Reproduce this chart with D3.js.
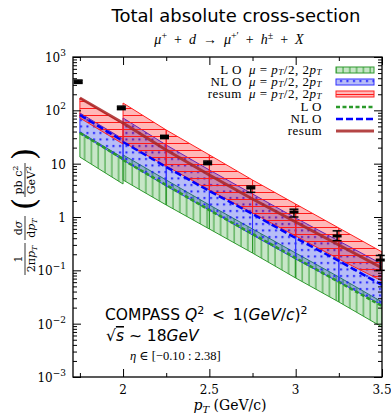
<!DOCTYPE html>
<html>
<head>
  <title>Total absolute cross-section</title>
  <style>
    body { margin: 0; background: #fff; }
    svg text { fill: #000; }
    .serif { font-family: "DejaVu Serif", "Liberation Serif", serif; }
    .lserif { font-family: "Liberation Serif", "DejaVu Serif", serif; }
    .sans { font-family: "DejaVu Sans", sans-serif; }
  </style>
</head>
<body>
  <div id="chart"></div>

  <script src="https://d3js.org/d3.v7.min.js"></script>
  <script>
    // pT nodes: the first bin is computed separately, the rest share one curve
    const ptFirst = [1.75, 2.0];
    const ptRest = [2.0, 2.25, 2.5, 2.75, 3.0, 3.25, 3.5];

    // LO band (mu = pT/2 .. 2pT) and central LO curve
    const loLow1 = [13.3, 4.16];
    const loHigh1 = [39.3, 12.8];
    const loLine1 = [37.6, 12.2];
    const loLow = [4.94, 1.68, 0.596, 0.211, 0.0718, 0.0255, 0.00866];
    const loHigh = [14.6, 4.94, 1.68, 0.596, 0.211, 0.075, 0.0255];
    const loLine = [11.7, 3.98, 1.35, 0.48, 0.17, 0.0604, 0.0214];

    // NLO band and curve
    const nloLow1 = [37.6, 11.7];
    const nloHigh1 = [89.1, 29.0];
    const nloLine1 = [81.8, 26.6];
    const nloLow = [11.7, 3.81, 1.35, 0.46, 0.163, 0.0604, 0.0224];
    const nloHigh = [71.9, 22.4, 7.61, 2.7, 0.958, 0.355, 0.131];
    const nloLine = [25.5, 8.66, 3.07, 1.14, 0.404, 0.15, 0.0531];

    // resummed band and curve
    const resLow1 = [71.9, 23.4];
    const resHigh1 = [170, 55.5];
    const resLine1 = [170, 57.9];
    const resLow = [25.5, 9.04, 3.21, 1.19, 0.441, 0.163, 0.0631];
    const resHigh = [137, 42.8, 14.6, 4.94, 1.75, 0.622, 0.221];
    const resLine = [57.9, 18.0, 6.14, 2.18, 0.806, 0.299, 0.111];

    // COMPASS data
    const dataPt = [1.74, 1.99, 2.24, 2.49, 2.74, 2.99, 3.24, 3.49];
    const dataVal = [344, 111, 31.6, 10.3, 3.5, 1.24, 0.441, 0.156];
    const dataLow = [320, 103, 29.5, 9.6, 2.9, 1.0, 0.36, 0.10];
    const dataHigh = [370, 120, 34, 11.2, 3.8, 1.4, 0.55, 0.19];

    const xTicks = [2, 2.5, 3, 3.5];
    const xMinor = [1.75, 2.25, 2.75, 3.25];
    const yTickExp = [-3, -2, -1, 0, 1, 2, 3];

    const W = 391, H = 415;
    const svg = d3.select("#chart").append("svg")
      .attr("width", W).attr("height", H);

    const x = d3.scaleLinear().domain([1.71, 3.5]).range([73, 382]);
    const y = d3.scaleLog().domain([1e-3, 1e3]).range([377, 57]);

    const defs = svg.append("defs");
    defs.append("clipPath").attr("id", "clip")
      .append("rect").attr("x", 73).attr("y", 57).attr("width", 309).attr("height", 320);

    // hatch patterns
    const pV = defs.append("pattern").attr("id", "hatchV")
      .attr("patternUnits", "userSpaceOnUse").attr("width", 6.8).attr("height", 7);
    pV.append("line").attr("x1", 3).attr("x2", 3).attr("y1", 0).attr("y2", 7)
      .attr("stroke", "#2e9a2e").attr("stroke-width", 1);

    const pD = defs.append("pattern").attr("id", "hatchD")
      .attr("patternUnits", "userSpaceOnUse").attr("width", 6.5).attr("height", 6.5);
    pD.append("rect").attr("x", 2).attr("y", 2).attr("width", 2).attr("height", 2)
      .attr("fill", "#1a1aff");

    const pH = defs.append("pattern").attr("id", "hatchH")
      .attr("patternUnits", "userSpaceOnUse").attr("width", 7).attr("height", 7);
    pH.append("line").attr("x1", 0).attr("x2", 7).attr("y1", 3.5).attr("y2", 3.5)
      .attr("stroke", "#ff1a1a").attr("stroke-width", 1);

    const plot = svg.append("g").attr("clip-path", "url(#clip)");

    const bandStyles = {
      lo: { fill: "rgba(0,140,0,0.22)", pat: "url(#hatchV)", edge: "#2e9a2e" },
      nlo: { fill: "rgba(30,50,230,0.32)", pat: "url(#hatchD)", edge: "#3030ff" },
      res: { fill: "rgba(255,0,0,0.28)", pat: "url(#hatchH)", edge: "#ff2020" }
    };

    const poly = d3.line().x(d => x(d[0])).y(d => y(d[1]));

    function drawBand(pts, low, high, st) {
      for (let i = 0; i < pts.length - 1; i++) {
        const shape = [[pts[i], low[i]], [pts[i + 1], low[i + 1]],
          [pts[i + 1], high[i + 1]], [pts[i], high[i]], [pts[i], low[i]]];
        plot.append("path").attr("d", poly(shape)).attr("fill", st.fill);
        plot.append("path").attr("d", poly(shape)).attr("fill", st.pat);
        plot.append("path").attr("d", poly(shape)).attr("fill", "none")
          .attr("stroke", st.edge).attr("stroke-width", 1);
      }
    }

    drawBand(ptFirst, loLow1, loHigh1, bandStyles.lo);
    drawBand(ptRest, loLow, loHigh, bandStyles.lo);
    drawBand(ptFirst, nloLow1, nloHigh1, bandStyles.nlo);
    drawBand(ptRest, nloLow, nloHigh, bandStyles.nlo);
    drawBand(ptFirst, resLow1, resHigh1, bandStyles.res);
    drawBand(ptRest, resLow, resHigh, bandStyles.res);

    const curve = d3.line().x(d => x(d[0])).y(d => y(d[1]));
    const lineStyles = {
      lo: { stroke: "#2a9a2a", width: 2.5, dash: "4,2.5", op: 1 },
      nlo: { stroke: "#0000ff", width: 2.5, dash: "7,3", op: 1 },
      res: { stroke: "#a82424", width: 3, dash: null, op: 0.85 }
    };
    function drawLine(pts, vals, st) {
      plot.append("path").attr("d", curve(pts.map((p, i) => [p, vals[i]])))
        .attr("fill", "none").attr("stroke", st.stroke)
        .attr("stroke-width", st.width).attr("stroke-dasharray", st.dash)
        .attr("stroke-opacity", st.op);
    }
    drawLine(ptFirst, loLine1, lineStyles.lo);
    drawLine(ptRest, loLine, lineStyles.lo);
    drawLine(ptFirst, nloLine1, lineStyles.nlo);
    drawLine(ptRest, nloLine, lineStyles.nlo);
    drawLine(ptFirst.concat(ptRest.slice(1)), resLine1.concat(resLine.slice(1)), lineStyles.res);

    // data points with error bars
    const pts = svg.append("g");
    dataPt.forEach((p, i) => {
      const cx = x(p);
      pts.append("line").attr("x1", cx).attr("x2", cx)
        .attr("y1", y(dataLow[i])).attr("y2", y(dataHigh[i]))
        .attr("stroke", "#000").attr("stroke-width", 1.5);
      [dataLow[i], dataHigh[i]].forEach(v => {
        pts.append("line").attr("x1", cx - 4.5).attr("x2", cx + 4.5)
          .attr("y1", y(v)).attr("y2", y(v))
          .attr("stroke", "#000").attr("stroke-width", 1.5);
      });
      pts.append("rect").attr("x", cx - 4.5).attr("y", y(dataVal[i]) - 1.5)
        .attr("width", 9).attr("height", 3).attr("fill", "#000");
    });

    // axes: ticks pointing inward on all four sides
    const yMinor = [];
    for (let e = -3; e < 3; e++) for (let k = 2; k <= 9; k++) yMinor.push(k * Math.pow(10, e));
    const yMajor = yTickExp.map(e => Math.pow(10, e));

    function axis(gen, tr) {
      const g = svg.append("g").attr("transform", tr).call(gen);
      g.selectAll("text").remove();
      g.select(".domain").remove();
      g.selectAll("line").attr("stroke", "#000");
      return g;
    }
    axis(d3.axisLeft(y).tickValues(yMajor).tickSize(-8), "translate(73,0)");
    axis(d3.axisLeft(y).tickValues(yMinor).tickSize(-4), "translate(73,0)");
    axis(d3.axisRight(y).tickValues(yMajor).tickSize(-8), "translate(382,0)");
    axis(d3.axisRight(y).tickValues(yMinor).tickSize(-4), "translate(382,0)");
    axis(d3.axisBottom(x).tickValues(xTicks).tickSize(-8), "translate(0,377)");
    axis(d3.axisBottom(x).tickValues(xMinor).tickSize(-4), "translate(0,377)");
    axis(d3.axisTop(x).tickValues(xTicks).tickSize(-8), "translate(0,57)");
    axis(d3.axisTop(x).tickValues(xMinor).tickSize(-4), "translate(0,57)");

    svg.append("rect").attr("x", 73).attr("y", 57).attr("width", 309).attr("height", 320)
      .attr("fill", "none").attr("stroke", "#000").attr("stroke-width", 1.3);

    // y tick labels
    yTickExp.forEach(e => {
      const t = svg.append("text").attr("class", "serif")
        .attr("x", 66).attr("y", y(Math.pow(10, e)) + 5)
        .attr("text-anchor", "end").attr("font-size", 12);
      if (e === 0) t.text("1");
      else if (e === 1) t.text("10");
      else {
        t.append("tspan").text("10");
        t.append("tspan").attr("dy", -6).attr("font-size", 9)
          .text(e < 0 ? "\u2212" + (-e) : String(e));
      }
    });

    // x tick labels
    xTicks.forEach(v => {
      svg.append("text").attr("class", "serif")
        .attr("x", x(v)).attr("y", 394).attr("text-anchor", "middle")
        .attr("font-size", 12).text(v);
    });

    // x axis label
    const xl = svg.append("text").attr("class", "serif")
      .attr("x", 230).attr("y", 410).attr("text-anchor", "middle").attr("font-size", 14);
    xl.append("tspan").attr("font-style", "italic").text("p");
    xl.append("tspan").attr("font-style", "italic").attr("font-size", 10).attr("dy", 3).text("T");
    xl.append("tspan").attr("dy", -3).text(" (GeV/c)");

    // y axis label, rotated
    const yl = svg.append("g").attr("class", "serif")
      .attr("transform", "translate(25,217) rotate(-90)").attr("font-size", 11);
    function frac(cx, num, den, w) {
      const g = yl.append("g").attr("transform", `translate(${cx},0)`);
      g.append("line").attr("x1", -w / 2).attr("x2", w / 2).attr("y1", 0).attr("y2", 0)
        .attr("stroke", "#000").attr("stroke-width", 0.8);
      const n = g.append("text").attr("y", -3).attr("text-anchor", "middle");
      num(n);
      const d = g.append("text").attr("y", 10).attr("text-anchor", "middle");
      den(d);
    }
    frac(-42, t => t.text("1"), t => {
      t.append("tspan").text("2\u03c0");
      t.append("tspan").attr("font-style", "italic").text("p");
      t.append("tspan").attr("font-style", "italic").attr("font-size", 8).attr("dy", 2).text("T");
    }, 32);
    frac(-11, t => {
      t.append("tspan").text("d");
      t.append("tspan").attr("font-style", "italic").text("\u03c3");
    }, t => {
      t.append("tspan").text("d");
      t.append("tspan").attr("font-style", "italic").text("p");
      t.append("tspan").attr("font-style", "italic").attr("font-size", 8).attr("dy", 2).text("T");
    }, 24);
    frac(37, t => {
      t.append("tspan").text("pb c");
      t.append("tspan").attr("font-size", 8).attr("dy", -4).text("2");
    }, t => {
      t.append("tspan").text("GeV");
      t.append("tspan").attr("font-size", 8).attr("dy", -4).text("2");
    }, 34);
    yl.append("text").attr("x", 13).attr("y", 10).attr("font-size", 32)
      .attr("text-anchor", "middle").attr("font-weight", 100).text("(");
    yl.append("text").attr("x", 63).attr("y", 10).attr("font-size", 32)
      .attr("text-anchor", "middle").attr("font-weight", 100).text(")");

    // titles
    svg.append("text").attr("class", "sans").attr("x", 236).attr("y", 22)
      .attr("text-anchor", "middle").attr("font-size", 18).text("Total absolute cross-section");
    const sp = "\u2002";
    const st = svg.append("text").attr("class", "lserif").attr("x", 229).attr("y", 44)
      .attr("text-anchor", "middle").attr("font-size", 14);
    st.append("tspan").attr("font-style", "italic").text("\u03bc");
    st.append("tspan").attr("font-size", 10).attr("dy", -5).text("+");
    st.append("tspan").attr("dy", 5).text(sp + "+" + sp);
    st.append("tspan").attr("font-style", "italic").text("d");
    st.append("tspan").text(sp + "\u2192" + sp);
    st.append("tspan").attr("font-style", "italic").text("\u03bc");
    st.append("tspan").attr("font-size", 10).attr("dy", -5).text("+\u2032");
    st.append("tspan").attr("dy", 5).text(sp + "+" + sp);
    st.append("tspan").attr("font-style", "italic").text("h");
    st.append("tspan").attr("font-size", 10).attr("dy", -5).text("\u00b1");
    st.append("tspan").attr("dy", 5).text(sp + "+" + sp);
    st.append("tspan").attr("font-style", "italic").text("X");

    // legend
    const legendLabels = ["L O", "NL O", "resum"];
    const leg = svg.append("g").attr("class", "lserif").attr("font-size", 13)
      .attr("letter-spacing", 0.5);
    const bandKeys = ["lo", "nlo", "res"];
    bandKeys.forEach((k, i) => {
      const yy = 70 + i * 12;
      const t = leg.append("text").attr("x", 322).attr("y", yy + 4).attr("text-anchor", "end");
      t.append("tspan").text(legendLabels[i] + sp);
      t.append("tspan").attr("font-style", "italic").text("\u03bc");
      t.append("tspan").text(" = ");
      t.append("tspan").attr("font-style", "italic").text("p");
      t.append("tspan").attr("font-style", "italic").attr("font-size", 9).attr("dy", 1).text("T");
      t.append("tspan").attr("dy", -1).text("/2, 2");
      t.append("tspan").attr("font-style", "italic").text("p");
      t.append("tspan").attr("font-style", "italic").attr("font-size", 9).attr("dy", 1).text("T");
      const s = bandStyles[k];
      [s.fill, s.pat].forEach(f => {
        leg.append("rect").attr("x", 336).attr("y", yy - 3).attr("width", 38).attr("height", 6)
          .attr("fill", f);
      });
      leg.append("rect").attr("x", 336).attr("y", yy - 3).attr("width", 38).attr("height", 6)
        .attr("fill", "none").attr("stroke", s.edge).attr("stroke-width", 1);
    });
    bandKeys.forEach((k, i) => {
      const yy = 107 + i * 12;
      leg.append("text").attr("x", 322).attr("y", yy + 4).attr("text-anchor", "end")
        .text(legendLabels[i]);
      const s = lineStyles[k];
      leg.append("line").attr("x1", 336).attr("x2", 374).attr("y1", yy).attr("y2", yy)
        .attr("stroke", s.stroke).attr("stroke-width", s.width)
        .attr("stroke-dasharray", s.dash).attr("stroke-opacity", s.op);
    });

    // annotations
    const a1 = svg.append("text").attr("class", "sans").attr("x", 105).attr("y", 320)
      .attr("font-size", 15.5);
    a1.append("tspan").text("COMPASS ");
    a1.append("tspan").attr("font-style", "italic").text("Q");
    a1.append("tspan").attr("font-size", 11).attr("dy", -6).text("2");
    a1.append("tspan").attr("dy", 6).text(sp + "<" + sp + "1(");
    a1.append("tspan").attr("font-style", "italic").text("GeV");
    a1.append("tspan").text("/");
    a1.append("tspan").attr("font-style", "italic").text("c");
    a1.append("tspan").text(")");
    a1.append("tspan").attr("font-size", 11).attr("dy", -6).text("2");
    const a2 = svg.append("text").attr("class", "sans").attr("x", 106).attr("y", 341)
      .attr("font-size", 15.5);
    a2.append("tspan").text("\u221a");
    a2.append("tspan").attr("font-style", "italic").attr("text-decoration", "overline").text("s");
    a2.append("tspan").text(" \u223c 18");
    a2.append("tspan").attr("font-style", "italic").text("GeV");
    const a3 = svg.append("text").attr("class", "lserif").attr("x", 130).attr("y", 360)
      .attr("font-size", 12.5);
    a3.append("tspan").attr("font-style", "italic").text("\u03b7");
    a3.append("tspan").text(" \u2208 [\u22120.10 : 2.38]");
  </script>
</body>
</html>
